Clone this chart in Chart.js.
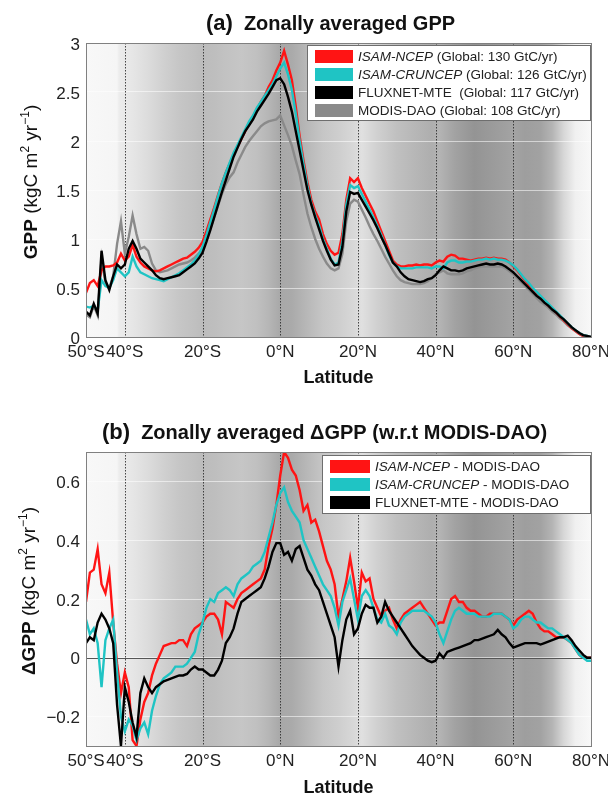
<!DOCTYPE html>
<html><head><meta charset="utf-8">
<script src="https://cdn.jsdelivr.net/npm/chart.js@4.4.1/dist/chart.umd.min.js"></script>
<style>
html,body{margin:0;padding:0;background:#fff;}
#wrap{position:relative;width:608px;height:796px;overflow:hidden;}
.box{position:absolute;left:0;width:608px;}
</style></head><body>
<div id="wrap">
<div class="box" style="top:0;height:400px"><canvas id="c1" width="608" height="400"></canvas></div>
<div class="box" style="top:400px;height:396px"><canvas id="c2" width="608" height="396"></canvas></div>
</div>
<script>
// ---------- DATA ----------
const latitude = [-50,-49,-48,-47,-46,-45,-44,-43,-42,-41,-40,-39,-38,-37,-36,-35,-34,-33,-32,-31,-30,-29,-28,-27,-26,-25,-24,-23,-22,-21,-20,-19,-18,-17,-16,-15,-14,-13,-12,-11,-10,-9,-8,-7,-6,-5,-4,-3,-2,-1,0,1,2,3,4,5,6,7,8,9,10,11,12,13,14,15,16,17,18,19,20,21,22,23,24,25,26,27,28,29,30,31,32,33,34,35,36,37,38,39,40,41,42,43,44,45,46,47,48,49,50,51,52,53,54,55,56,57,58,59,60,61,62,63,64,65,66,67,68,69,70,71,72,73,74,75,76,77,78,79,80];

const gppIsamNcep = [0.45,0.55,0.58,0.52,0.68,0.72,0.72,0.73,0.76,0.85,
0.78,0.82,0.94,0.82,0.76,0.72,0.70,0.68,0.67,0.68,
0.70,0.72,0.74,0.76,0.78,0.80,0.81,0.84,0.87,0.91,
0.97,1.08,1.20,1.32,1.45,1.57,1.68,1.77,1.86,1.94,
2.02,2.10,2.18,2.25,2.32,2.40,2.46,2.55,2.62,2.72,
2.80,2.92,2.78,2.62,2.35,2.05,1.80,1.58,1.40,1.28,
1.20,1.05,0.95,0.88,0.84,0.86,1.05,1.40,1.62,1.58,
1.62,1.52,1.44,1.36,1.28,1.18,1.08,0.98,0.88,0.78,
0.74,0.72,0.72,0.73,0.73,0.74,0.73,0.74,0.74,0.73,
0.76,0.78,0.77,0.82,0.84,0.83,0.80,0.80,0.79,0.78,
0.79,0.80,0.80,0.81,0.80,0.81,0.80,0.80,0.79,0.76,
0.72,0.68,0.63,0.58,0.53,0.48,0.44,0.40,0.36,0.32,
0.29,0.25,0.21,0.17,0.13,0.09,0.06,0.03,0.01,0.0,
0.0];

const gppIsamCruncep = [0.31,0.30,0.32,0.27,0.58,0.52,0.50,0.58,0.70,0.66,
0.62,0.66,0.82,0.72,0.66,0.64,0.62,0.60,0.59,0.58,
0.57,0.59,0.61,0.63,0.65,0.68,0.71,0.74,0.78,0.84,
0.92,1.04,1.17,1.30,1.44,1.57,1.68,1.78,1.88,1.96,
2.04,2.12,2.20,2.26,2.34,2.40,2.46,2.52,2.58,2.66,
2.74,2.80,2.68,2.52,2.28,2.00,1.76,1.54,1.36,1.24,
1.14,1.00,0.90,0.80,0.74,0.76,0.98,1.35,1.55,1.52,
1.54,1.46,1.38,1.30,1.22,1.13,1.04,0.94,0.84,0.76,
0.72,0.70,0.70,0.70,0.70,0.71,0.71,0.71,0.71,0.70,
0.72,0.72,0.70,0.76,0.78,0.78,0.76,0.76,0.77,0.77,
0.78,0.79,0.79,0.80,0.79,0.80,0.79,0.79,0.78,0.76,
0.73,0.69,0.64,0.59,0.55,0.50,0.46,0.42,0.38,0.34,
0.30,0.26,0.22,0.18,0.14,0.10,0.07,0.04,0.02,0.01,
0.0];

const gppFluxnetMte = [0.26,0.22,0.34,0.24,0.88,0.58,0.48,0.62,0.74,0.70,
0.74,0.90,0.98,0.90,0.80,0.76,0.72,0.68,0.63,0.60,
0.59,0.60,0.61,0.62,0.63,0.66,0.69,0.72,0.75,0.80,
0.86,0.97,1.09,1.22,1.35,1.48,1.60,1.72,1.84,1.93,
2.02,2.10,2.16,2.22,2.30,2.36,2.42,2.48,2.55,2.62,
2.64,2.58,2.45,2.30,2.10,1.90,1.70,1.50,1.35,1.22,
1.10,0.98,0.88,0.79,0.73,0.74,0.92,1.28,1.48,1.46,
1.47,1.40,1.33,1.26,1.19,1.11,1.02,0.94,0.85,0.76,
0.72,0.66,0.62,0.59,0.58,0.57,0.56,0.57,0.59,0.60,
0.63,0.68,0.72,0.70,0.68,0.68,0.67,0.68,0.70,0.71,
0.72,0.73,0.74,0.75,0.74,0.74,0.75,0.74,0.72,0.69,
0.66,0.62,0.58,0.54,0.50,0.46,0.42,0.39,0.35,0.32,
0.28,0.25,0.21,0.18,0.14,0.10,0.07,0.04,0.02,0.01,
0.0];

const gppModisDao = [0.23,0.20,0.32,0.22,0.80,0.55,0.50,0.62,0.95,1.18,
0.85,1.02,1.24,1.05,0.90,0.92,0.88,0.75,0.68,0.66,
0.67,0.68,0.70,0.72,0.74,0.75,0.76,0.78,0.81,0.85,
0.90,0.99,1.10,1.22,1.34,1.46,1.56,1.63,1.68,1.78,
1.86,1.94,2.00,2.05,2.10,2.15,2.18,2.20,2.21,2.22,
2.26,2.16,2.06,1.95,1.80,1.66,1.45,1.26,1.12,1.00,
0.90,0.82,0.75,0.70,0.68,0.70,0.85,1.18,1.36,1.40,
1.38,1.30,1.22,1.13,1.05,0.98,0.90,0.82,0.75,0.68,
0.62,0.58,0.56,0.55,0.54,0.54,0.54,0.55,0.57,0.60,
0.64,0.66,0.68,0.65,0.64,0.64,0.64,0.65,0.67,0.68,
0.70,0.71,0.72,0.72,0.72,0.72,0.72,0.72,0.70,0.67,
0.64,0.60,0.56,0.52,0.48,0.44,0.40,0.36,0.33,0.30,
0.26,0.23,0.19,0.16,0.12,0.09,0.06,0.03,0.01,0.0,
0.0];

const dGppIsamNcep = [0.19,0.29,0.30,0.37,0.25,0.22,0.29,0.12,-0.02,-0.12,
-0.05,-0.10,-0.28,-0.30,-0.21,-0.15,-0.12,-0.06,-0.02,0.01,
0.04,0.045,0.05,0.05,0.06,0.06,0.04,0.08,0.10,0.11,
0.12,0.14,0.15,0.15,0.13,0.08,0.19,0.18,0.17,0.20,
0.22,0.23,0.24,0.25,0.26,0.27,0.30,0.38,0.44,0.52,
0.62,0.70,0.68,0.64,0.62,0.57,0.50,0.52,0.46,0.47,
0.43,0.38,0.33,0.30,0.25,0.14,0.20,0.26,0.34,0.26,
0.17,0.29,0.26,0.27,0.20,0.17,0.14,0.16,0.17,0.13,
0.10,0.13,0.15,0.16,0.17,0.18,0.19,0.17,0.15,0.13,
0.11,0.12,0.12,0.16,0.20,0.21,0.19,0.19,0.17,0.16,
0.16,0.15,0.14,0.14,0.15,0.15,0.15,0.15,0.14,0.13,
0.11,0.13,0.14,0.15,0.16,0.15,0.12,0.10,0.09,0.09,
0.08,0.07,0.07,0.07,0.06,0.05,0.03,0.01,0.0,0.0,
0.0];

const dGppIsamCruncep = [0.13,0.08,0.10,0.05,-0.10,0.06,0.10,0.13,-0.05,-0.20,
-0.25,-0.21,-0.23,-0.28,-0.24,-0.22,-0.26,-0.18,-0.13,-0.09,
-0.07,-0.06,-0.05,-0.03,-0.03,-0.03,-0.02,0.00,0.02,0.08,
0.12,0.17,0.20,0.19,0.22,0.23,0.24,0.23,0.21,0.25,
0.27,0.28,0.29,0.31,0.32,0.33,0.36,0.41,0.46,0.52,
0.56,0.58,0.53,0.50,0.48,0.46,0.40,0.37,0.34,0.31,
0.28,0.25,0.23,0.21,0.17,0.11,0.19,0.23,0.27,0.20,
0.13,0.21,0.23,0.21,0.17,0.13,0.12,0.15,0.11,0.10,
0.08,0.12,0.14,0.15,0.16,0.16,0.16,0.16,0.15,0.14,
0.12,0.08,0.05,0.09,0.13,0.16,0.17,0.16,0.15,0.15,
0.15,0.14,0.14,0.14,0.14,0.15,0.15,0.15,0.14,0.13,
0.10,0.11,0.13,0.14,0.14,0.13,0.12,0.12,0.11,0.10,
0.10,0.09,0.08,0.07,0.06,0.05,0.03,0.01,0.0,-0.01,
-0.01];

const dGppFluxnetMte = [0.05,0.07,0.06,0.12,0.15,0.13,0.10,0.05,-0.16,-0.30,
-0.10,-0.15,-0.22,-0.27,-0.12,-0.07,-0.10,-0.12,-0.10,-0.09,
-0.08,-0.075,-0.07,-0.065,-0.06,-0.06,-0.055,-0.04,-0.03,-0.04,
-0.04,-0.05,-0.06,-0.06,-0.04,-0.01,0.05,0.07,0.10,0.15,
0.19,0.20,0.21,0.22,0.23,0.24,0.27,0.31,0.36,0.39,
0.39,0.35,0.36,0.33,0.37,0.38,0.34,0.30,0.28,0.25,
0.23,0.19,0.15,0.11,0.07,-0.03,0.06,0.13,0.16,0.08,
0.10,0.15,0.18,0.17,0.17,0.12,0.14,0.19,0.16,0.14,
0.12,0.10,0.08,0.06,0.04,0.025,0.01,0.0,-0.01,-0.015,
-0.01,0.015,0.0,0.02,0.025,0.03,0.035,0.04,0.045,0.05,
0.06,0.06,0.065,0.07,0.075,0.08,0.095,0.08,0.07,0.05,
0.035,0.04,0.045,0.05,0.05,0.05,0.05,0.045,0.05,0.055,
0.06,0.065,0.07,0.07,0.075,0.06,0.04,0.025,0.01,0.0,
0.0];

const xTickValues = [-50,-40,-20,0,20,40,60,80];
const xTickLabels = ['50°S','40°S','20°S','0°N','20°N','40°N','60°N','80°N'];
const dottedLatitudes = [-40,-20,0,20,40,60];
const yTicksA = [0,0.5,1,1.5,2,2.5,3];
const yTickLabelsA = ['0','0.5','1','1.5','2','2.5','3'];
const yTicksB = [-0.2,0,0.2,0.4,0.6];
const yTickLabelsB = ['\u22120.2','0','0.2','0.4','0.6'];
const legendNamesA = ['ISAM-NCEP','ISAM-CRUNCEP','FLUXNET-MTE','MODIS-DAO'];
const legendGlobalA = [' (Global: 130 GtC/yr)',' (Global: 126 GtC/yr)','  (Global: 117 GtC/yr)',' (Global: 108 GtC/yr)'];
const legendNamesB = ['ISAM-NCEP','ISAM-CRUNCEP','FLUXNET-MTE'];
const legendSuffixB = [' - MODIS-DAO',' - MODIS-DAO',' - MODIS-DAO'];

// background shading (latitude, gray level)
const shadeLatitude = [-50,-42,-41.5,-38,-34,-30,-26,-22,-20,-17,-14,-10,-6,-3,0,3,7,11,15,19,21,25,30,35,39,41,45,50,54,58,60,63,67,70,73,76,80];
const shadeGray     = [248,245,236,230,220,208,198,192,188,190,194,198,192,182,168,170,184,198,206,216,224,208,192,182,174,180,162,148,154,160,164,158,162,180,215,240,248];

// ---------- DRAWING ----------
const FONT = '"Liberation Sans", Arial, Helvetica, sans-serif';
const COLORS = {ncep:'#ff1414', cru:'#1fc4c4', flux:'#000000', modis:'#8a8a8a'};

function pts(arr){ return latitude.map((x,i)=>({x:x, y:arr[i]})); }

function drawRich(ctx, segs, x, y, align){
  let total = 0;
  segs.forEach(s=>{ ctx.font = s.font; s.w = ctx.measureText(s.text).width; total += s.w; });
  let cx = align==='center' ? x - total/2 : x;
  segs.forEach(s=>{ ctx.font = s.font; ctx.fillText(s.text, cx, y + (s.dy||0)); cx += s.w; });
}

const decor = {
  id:'decor',
  beforeDraw(chart, args, o){
    const {ctx, chartArea:a, scales:{x}} = chart;
    const g = ctx.createLinearGradient(a.left,0,a.right,0);
    shadeLatitude.forEach((lat,i)=>{
      const t = (x.getPixelForValue(lat)-a.left)/(a.right-a.left);
      const v = shadeGray[i];
      g.addColorStop(Math.min(1,Math.max(0,t)), 'rgb('+v+','+v+','+v+')');
    });
    ctx.save(); ctx.fillStyle = g; ctx.fillRect(a.left,a.top,a.right-a.left,a.bottom-a.top); ctx.restore();
  },
  beforeDatasetsDraw(chart, args, o){
    const {ctx, chartArea:a, scales:{x,y}} = chart;
    ctx.save();
    ctx.strokeStyle = 'rgba(40,40,40,0.85)'; ctx.lineWidth = 1; ctx.setLineDash([1.5,1.5]);
    dottedLatitudes.forEach(lat=>{
      const px = Math.round(x.getPixelForValue(lat))+0.5;
      ctx.beginPath(); ctx.moveTo(px,a.top); ctx.lineTo(px,a.bottom); ctx.stroke();
    });
    ctx.setLineDash([]);
    if (o.zeroLine){
      const py = Math.round(y.getPixelForValue(0))+0.5;
      ctx.strokeStyle = '#555'; ctx.lineWidth = 1;
      ctx.beginPath(); ctx.moveTo(a.left,py); ctx.lineTo(a.right,py); ctx.stroke();
    }
    ctx.restore();
  },
  afterDraw(chart, args, o){
    const {ctx, chartArea:a} = chart;
    ctx.save();
    // frame
    ctx.strokeStyle = '#808080'; ctx.lineWidth = 1;
    ctx.strokeRect(Math.round(a.left)+0.5, Math.round(a.top)+0.5, Math.round(a.right-a.left), Math.round(a.bottom-a.top));
    // legend
    const L = o.legend;
    ctx.fillStyle = '#fff'; ctx.fillRect(L.left, L.top, a.right - L.left, L.height);
    ctx.strokeStyle = '#6e6e6e'; ctx.strokeRect(L.left+0.5, L.top+0.5, a.right - L.left - 1, L.height);
    ctx.textBaseline = 'middle';
    L.names.forEach((nm,i)=>{
      const cy = L.top + L.first + i*L.step;
      ctx.fillStyle = L.colors[i];
      ctx.fillRect(L.left+8, cy-6.5, L.sw, 13);
      ctx.fillStyle = '#222';
      drawRich(ctx, [
        {text:nm, font:(L.italic[i]?'italic ':'')+'13.5px '+FONT},
        {text:L.suffix[i], font:'13.5px '+FONT}
      ], L.left+8+L.sw+5, cy+0.5, 'left');
    });
    // title
    ctx.textBaseline = 'alphabetic'; ctx.fillStyle = '#111';
    const cx = (a.left+a.right)/2 + o.titleDx;
    drawRich(ctx, [
      {text:o.titleTag, font:'bold 22px '+FONT},
      {text:'  ', font:'bold 20px '+FONT},
      {text:o.titleText, font:'bold 20px '+FONT}
    ], cx, o.titleY, 'center');
    // x title
    ctx.textBaseline = 'middle';
    drawRich(ctx, [{text:'Latitude', font:'bold 18px '+FONT}], (a.left+a.right)/2, o.xTitleY, 'center');
    // y title (rotated)
    ctx.translate(o.yTitleX, (a.top+a.bottom)/2 + o.yTitleDy);
    ctx.rotate(-Math.PI/2);
    ctx.textBaseline = 'alphabetic';
    drawRich(ctx, [
      {text:o.yTitleBold, font:'bold 19px '+FONT},
      {text:' (kgC m', font:'19px '+FONT},
      {text:'2', font:'12px '+FONT, dy:-8},
      {text:' yr', font:'19px '+FONT},
      {text:'\u22121', font:'12px '+FONT, dy:-8},
      {text:')', font:'19px '+FONT}
    ], 0, 7, 'center');
    ctx.restore();
  }
};

function makeScales(yMin, yMax, yTicks, yLabels, xHeight){
  return {
    x:{type:'linear', min:-50, max:80,
       afterBuildTicks:s=>{ s.ticks = xTickValues.map(v=>({value:v})); },
       afterFit:s=>{ s.height = xHeight; s.paddingLeft = 0; s.paddingRight = 0; },
       grid:{display:false, drawTicks:false}, border:{display:false},
       ticks:{autoSkip:false, maxRotation:0, minRotation:0, padding:5, color:'#222',
              font:{family:FONT, size:17},
              callback:v=>xTickLabels[xTickValues.indexOf(v)]}},
    y:{type:'linear', min:yMin, max:yMax,
       afterBuildTicks:s=>{ s.ticks = yTicks.map(v=>({value:v})); },
       afterFit:s=>{ s.width = 86; s.paddingTop = 0; s.paddingBottom = 0; },
       grid:{color:'rgba(255,255,255,0.55)', lineWidth:1, drawTicks:false}, border:{display:false},
       ticks:{padding:6, color:'#222', labelOffset:2, font:{family:FONT, size:17},
              callback:v=>yLabels[yTicks.indexOf(v)]}}
  };
}

function ds(label, arr, color, order){
  return {label, data:pts(arr), borderColor:color, backgroundColor:color, borderWidth:2.4,
          pointRadius:0, tension:0, order, fill:false};
}

new Chart(document.getElementById('c1'), {
  type:'line',
  data:{datasets:[
    ds('ISAM-NCEP', gppIsamNcep, COLORS.ncep, 3),
    ds('ISAM-CRUNCEP', gppIsamCruncep, COLORS.cru, 2),
    ds('FLUXNET-MTE', gppFluxnetMte, COLORS.flux, 1),
    ds('MODIS-DAO', gppModisDao, COLORS.modis, 4)
  ]},
  options:{
    responsive:false, animation:false, events:[],
    layout:{padding:{top:43, right:17, left:0, bottom:0}},
    scales: makeScales(0, 3, yTicksA, yTickLabelsA, 63),
    plugins:{legend:{display:false}, tooltip:{enabled:false},
      decor:{
        titleTag:'(a)', titleText:'Zonally averaged GPP', titleDx:-8, titleY:30,
        xTitleY:378, yTitleX:30, yTitleDy:-8, yTitleBold:'GPP', zeroLine:false,
        legend:{left:307, top:45, height:75, first:11.5, step:18, sw:38,
          names:legendNamesA, suffix:legendGlobalA, italic:[true,true,false,false],
          colors:[COLORS.ncep, COLORS.cru, COLORS.flux, COLORS.modis]}
      }}
  },
  plugins:[decor]
});

new Chart(document.getElementById('c2'), {
  type:'line',
  data:{datasets:[
    ds('ISAM-NCEP - MODIS-DAO', dGppIsamNcep, COLORS.ncep, 3),
    ds('ISAM-CRUNCEP - MODIS-DAO', dGppIsamCruncep, COLORS.cru, 2),
    ds('FLUXNET-MTE - MODIS-DAO', dGppFluxnetMte, COLORS.flux, 1)
  ]},
  options:{
    responsive:false, animation:false, events:[],
    layout:{padding:{top:52, right:17, left:0, bottom:0}},
    scales: makeScales(-0.3, 0.7, yTicksB, yTickLabelsB, 50),
    plugins:{legend:{display:false}, tooltip:{enabled:false},
      decor:{
        titleTag:'(b)', titleText:'Zonally averaged \u0394GPP (w.r.t MODIS-DAO)', titleDx:-14, titleY:39,
        xTitleY:388, yTitleX:28, yTitleDy:-8, yTitleBold:'\u0394GPP', zeroLine:true,
        legend:{left:322, top:55, height:58, first:11.5, step:18, sw:40,
          names:legendNamesB, suffix:legendSuffixB, italic:[true,true,false],
          colors:[COLORS.ncep, COLORS.cru, COLORS.flux]}
      }}
  },
  plugins:[decor]
});
</script>
</body></html>
